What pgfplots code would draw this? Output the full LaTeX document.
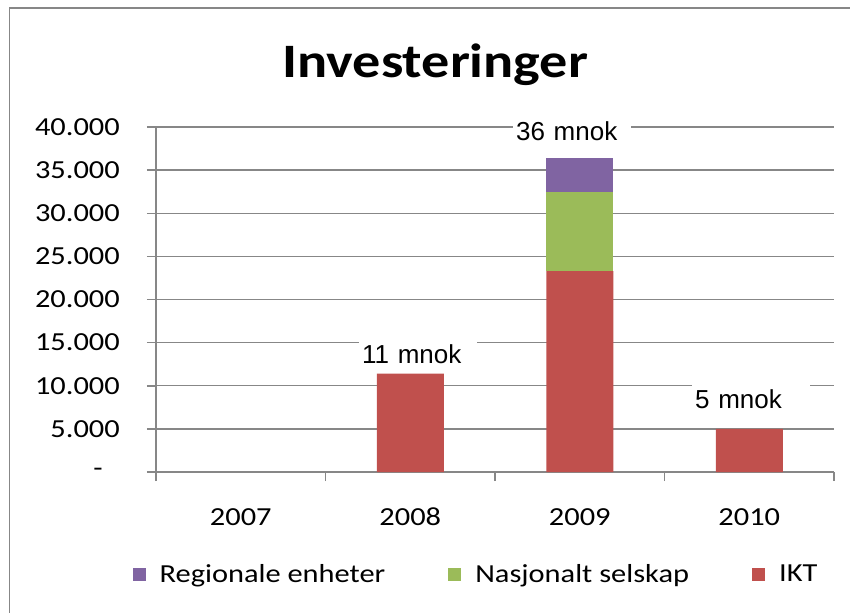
\documentclass[border=0pt]{standalone}
\usepackage{pgfplots}
\pgfplotsset{compat=1.18}
\usepackage{fontspec}
\setmainfont[FakeStretch=1.17]{Carlito}
\newfontfamily\arialfont{Liberation Sans}
\definecolor{ikt}{HTML}{C0504D}
\definecolor{nasj}{HTML}{9BBB59}
\definecolor{reg}{HTML}{8064A2}
\definecolor{gridgray}{HTML}{878787}
\begin{document}
\begin{tikzpicture}
\begin{axis}[
  at={(156bp,141bp)}, anchor=south west,
  scale only axis, width=678bp, height=345bp,
  ymin=0, ymax=40000, xmin=-0.5, xmax=3.5,
  clip=false,
  ybar stacked, bar width=67bp,
  ytick={0,5000,10000,15000,20000,25000,30000,35000,40000},
  yticklabels={-\hspace*{17bp},5.000,10.000,15.000,20.000,25.000,30.000,35.000,40.000},
  xtick={-0.5,0.5,1.5,2.5,3.5}, xticklabels={},
  extra x ticks={0,1,2,3},
  extra x tick labels={2007,2008,2009,2010},
  extra x tick style={major tick length=0pt, grid=none, xticklabel style={anchor=north, inner sep=0pt, yshift=-36bp}},
  axis x line*=bottom, axis y line*=left,
  ymajorgrids, grid style={draw=gridgray, line width=1.3bp},
  axis line style={draw=gridgray, line width=2bp},
  tick style={draw=gridgray, line width=1.5bp}, major tick length=9bp, tick align=outside,
  tick label style={font=\fontsize{26bp}{30bp}\selectfont, text=black},
  yticklabel style={anchor=east, inner sep=0pt, xshift=-27bp},
  scaled y ticks=false,
  reverse legend,
  legend columns=3,
  legend style={at={(0.4705,-0.2957)}, anchor=center, draw=none, fill=none,
    font=\fontsize{26bp}{30bp}\selectfont,
    nodes={inner sep=0pt},
    /tikz/every odd column/.append style={column sep=14bp},
    /tikz/every even column/.append style={column sep=63bp}},
  legend image code/.code={\fill[#1] (0bp,-6.5bp) rectangle (13bp,6.5bp);},
]
\addplot[fill=ikt, draw=none] coordinates {(0,0) (1,11400) (2,23300) (3,5000)};
\addlegendentry{IKT}
\addplot[fill=nasj, draw=none] coordinates {(0,0) (1,0) (2,9150) (3,0)};
\addlegendentry{Nasjonalt selskap}
\addplot[fill=reg, draw=none] coordinates {(0,0) (1,0) (2,3950) (3,0)};
\addlegendentry{Regionale enheter}
\node[anchor=base west, fill=white, inner xsep=3bp, inner ysep=5bp, text width=112bp, align=left, font=\arialfont\fontsize{26bp}{30bp}\selectfont] at (axis cs:0.6976,12635) {11 mnok};
\node[anchor=base west, fill=white, inner xsep=3bp, inner ysep=5bp, text width=112bp, align=left, font=\arialfont\fontsize{26bp}{30bp}\selectfont] at (axis cs:1.606,38377) {36 mnok};
\node[anchor=base west, fill=white, inner xsep=3bp, inner ysep=5bp, text width=112bp, align=left, font=\arialfont\fontsize{26bp}{30bp}\selectfont] at (axis cs:2.662,7420) {5 mnok};
\node[anchor=base, font=\fontsize{48bp}{56bp}\selectfont\bfseries] at (rel axis cs:0.412,1.1449) {Investeringer};
\end{axis}
\draw[gridgray, line width=1.5bp] (9.5bp,605bp) rectangle (900bp,-50bp);
\pgfresetboundingbox
\path[use as bounding box] (0,0) rectangle (850bp,613bp);
\end{tikzpicture}
\end{document}
